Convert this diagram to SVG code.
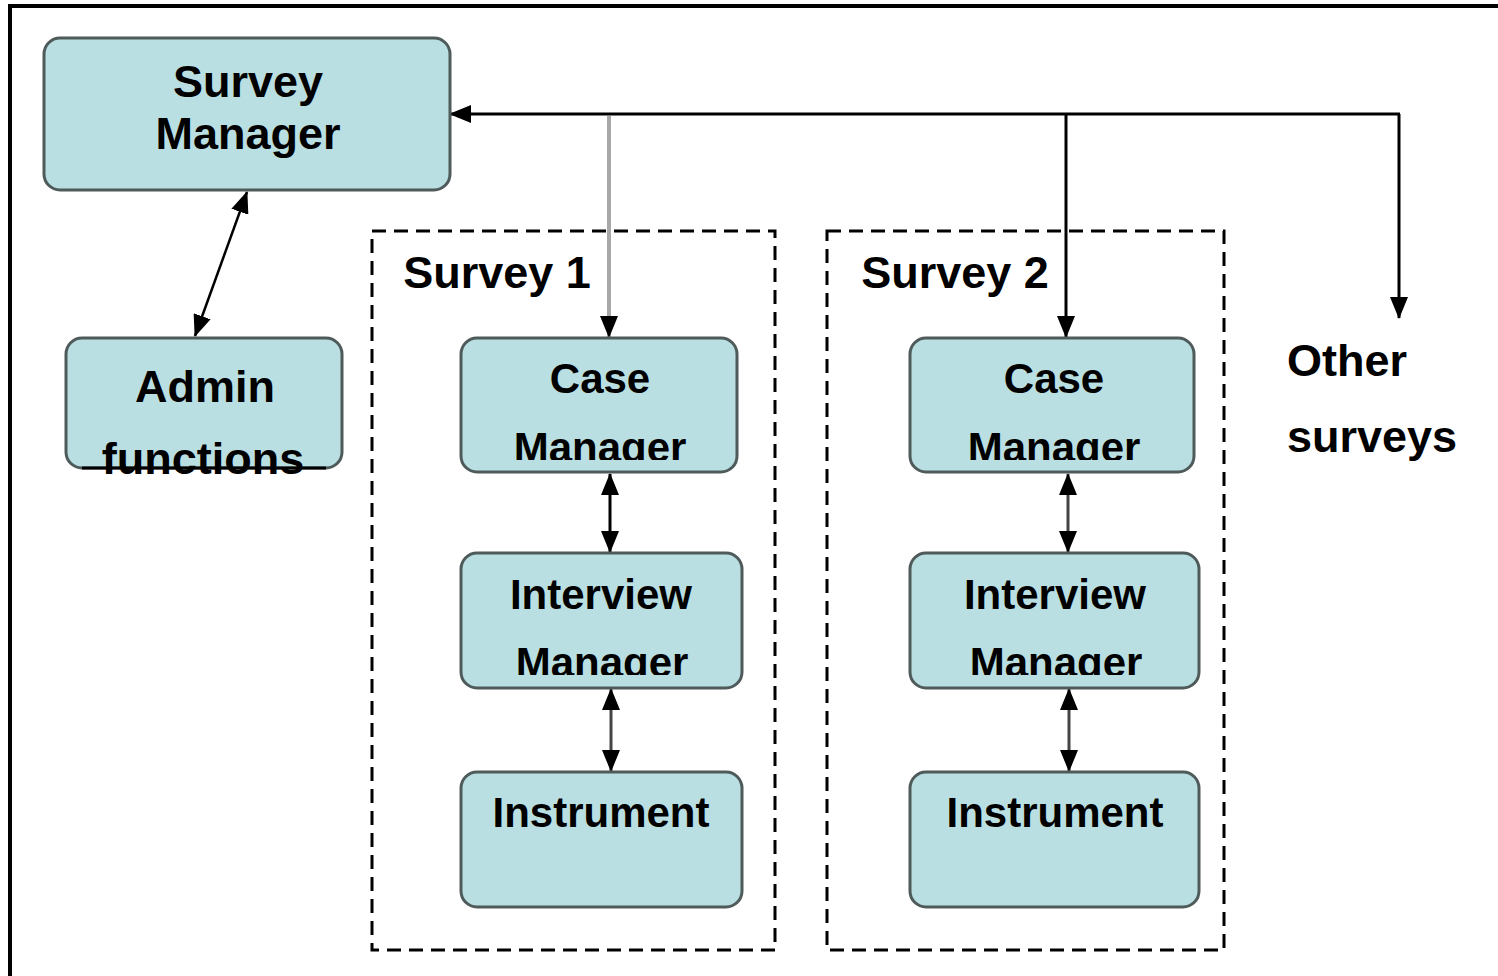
<svg xmlns="http://www.w3.org/2000/svg" width="1498" height="976" viewBox="0 0 1498 976">
<style>
.box{fill:#b9dfe2;stroke:#4f5a5a;stroke-width:3}
.t{font-family:"Liberation Sans",Arial,sans-serif;font-weight:bold;fill:#000;text-anchor:middle}
.big{font-size:45px}
.mid{font-size:42px}
.grp{fill:none;stroke:#000;stroke-width:3;stroke-dasharray:14 8}
.c{fill:none;stroke:#000;stroke-width:3}
</style>
<defs>
<marker id="ah" markerUnits="userSpaceOnUse" viewBox="0 0 22 18" markerWidth="22" markerHeight="18" refX="21" refY="9" orient="auto-start-reverse">
<path d="M0,0 L22,9 L0,18 z" fill="#000"/>
</marker>
<clipPath id="cm1"><rect x="455" y="330" width="290" height="130"/></clipPath>
<clipPath id="im1"><rect x="455" y="545" width="295" height="130"/></clipPath>
<clipPath id="cm2"><rect x="905" y="330" width="295" height="130"/></clipPath>
<clipPath id="im2"><rect x="905" y="545" width="300" height="130"/></clipPath>
</defs>
<rect width="1498" height="976" fill="#fff"/>
<path d="M10,980 L10,6 L1502,6" fill="none" stroke="#000" stroke-width="4"/>

<g id="survey1-group">
<rect class="grp" x="372" y="231" width="403" height="719"/>
<text class="t big" x="497" y="288">Survey 1</text>
</g>
<g id="survey2-group">
<rect class="grp" x="827" y="231" width="397" height="719"/>
<text class="t big" x="955" y="288">Survey 2</text>
</g>

<g id="connectors">
<polyline class="c" points="1399,114 1399,318" marker-end="url(#ah)"/>
<line class="c" x1="1400" y1="114" x2="450" y2="114" marker-end="url(#ah)"/>
<line x1="609" y1="116" x2="609" y2="337" stroke="#a8a8a8" stroke-width="4" marker-end="url(#ah)"/>
<line class="c" x1="1066" y1="114" x2="1066" y2="337" marker-end="url(#ah)"/>
<line x1="247" y1="192" x2="195" y2="336" stroke="#000" stroke-width="2.5" marker-start="url(#ah)" marker-end="url(#ah)"/>
<line class="c" x1="610" y1="474" x2="610" y2="552" marker-start="url(#ah)" marker-end="url(#ah)"/>
<line x1="611" y1="689" x2="611" y2="771" stroke="#444" stroke-width="3" marker-start="url(#ah)" marker-end="url(#ah)"/>
<line x1="1068" y1="474" x2="1068" y2="552" stroke="#444" stroke-width="3" marker-start="url(#ah)" marker-end="url(#ah)"/>
<line x1="1069" y1="689" x2="1069" y2="771" stroke="#444" stroke-width="3" marker-start="url(#ah)" marker-end="url(#ah)"/>
</g>

<g id="survey-manager">
<rect class="box" x="44" y="38" width="406" height="152" rx="16"/>
<text class="t big" x="248" y="97">Survey</text>
<text class="t big" x="248" y="149">Manager</text>
</g>

<g id="admin-functions">
<rect class="box" x="66" y="338" width="276" height="130" rx="16"/>
<text class="t big" x="205" y="402">Admin</text>
<text class="t big" x="203" y="474">functions</text>
<line x1="82" y1="468" x2="326" y2="468" stroke="#000" stroke-width="3"/>
</g>

<g id="case-manager-1">
<rect class="box" x="461" y="338" width="276" height="134" rx="16"/>
<text class="t mid" x="600" y="393">Case</text>
<text class="t mid" x="600" y="462" clip-path="url(#cm1)">Manager</text>
</g>
<g id="interview-manager-1">
<rect class="box" x="461" y="553" width="281" height="135" rx="16"/>
<text class="t mid" x="601" y="609">Interview</text>
<text class="t mid" x="602" y="677" clip-path="url(#im1)">Manager</text>
</g>
<g id="instrument-1">
<rect class="box" x="461" y="772" width="281" height="135" rx="16"/>
<text class="t mid" x="601" y="827">Instrument</text>
</g>

<g id="case-manager-2">
<rect class="box" x="910" y="338" width="284" height="134" rx="16"/>
<text class="t mid" x="1054" y="393">Case</text>
<text class="t mid" x="1054" y="462" clip-path="url(#cm2)">Manager</text>
</g>
<g id="interview-manager-2">
<rect class="box" x="910" y="553" width="289" height="135" rx="16"/>
<text class="t mid" x="1055" y="609">Interview</text>
<text class="t mid" x="1056" y="677" clip-path="url(#im2)">Manager</text>
</g>
<g id="instrument-2">
<rect class="box" x="910" y="772" width="289" height="135" rx="16"/>
<text class="t mid" x="1055" y="827">Instrument</text>
</g>

<g id="other-surveys">
<text class="t big" x="1287" y="376" style="text-anchor:start">Other</text>
<text class="t big" x="1287" y="452" style="text-anchor:start">surveys</text>
</g>
</svg>
